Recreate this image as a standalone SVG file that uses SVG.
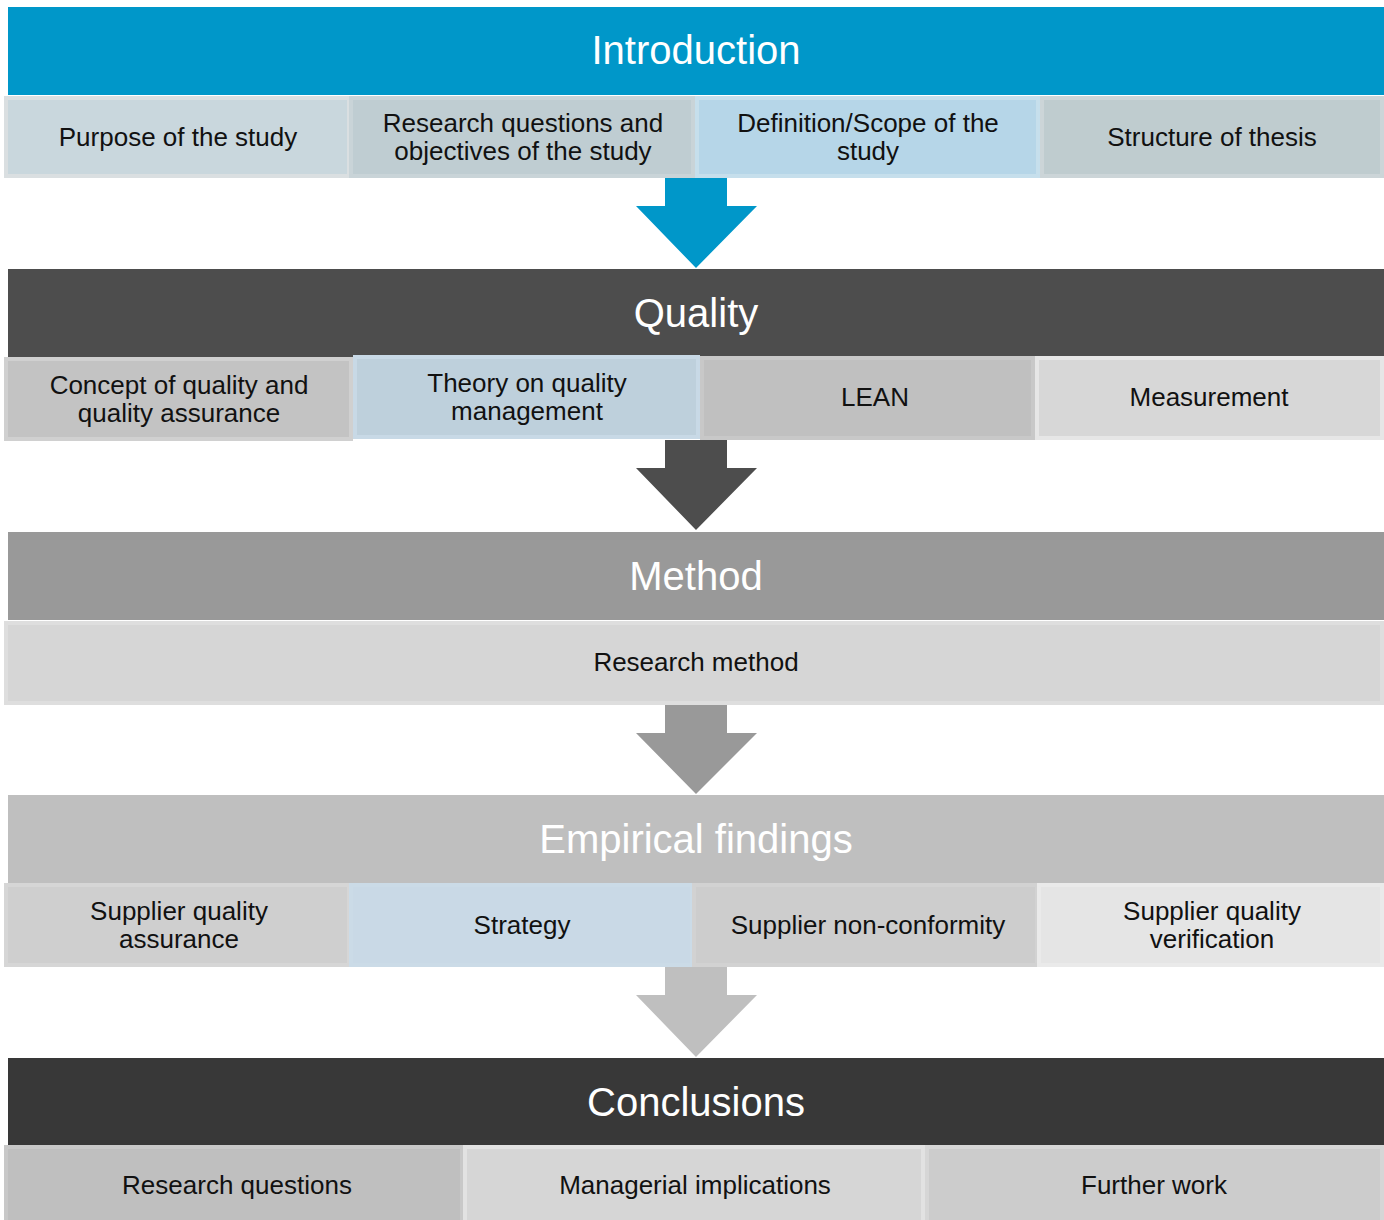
<svg xmlns="http://www.w3.org/2000/svg" width="1384" height="1220" viewBox="0 0 1384 1220">
  <style>
    text { font-family: "Liberation Sans", Arial, sans-serif; text-anchor: middle; }
    .head { font-size: 40px; fill: #ffffff; }
    .lbl { font-size: 26px; fill: #111111; }
    .cell { stroke-width: 4; }
  </style>
  <rect width="1384" height="1220" fill="#ffffff"/>

  <!-- flow arrows between the sections -->
  <g id="connectors">
    <polygon points="665,178 727,178 727,206 757,206 696,268 636,206 665,206" fill="#0097c9"/>
    <polygon points="665,440 727,440 727,468 757,468 696,530 636,468 665,468" fill="#4d4d4d"/>
    <polygon points="665,705 727,705 727,733 757,733 696,794 636,733 665,733" fill="#999999"/>
    <polygon points="665,967 727,967 727,995 757,995 696,1057 636,995 665,995" fill="#bfbfbf"/>
  </g>

  <!-- Introduction -->
  <g id="introduction">
    <rect x="8" y="7" width="1376" height="88" fill="#0097c9"/>
    <text class="head" x="696" y="64">Introduction</text>
  </g>
  <g id="purpose">
    <rect class="cell" x="6" y="98" width="343" height="78" fill="#c9d7dd" stroke="#dadfe1"/>
    <text class="lbl" x="178" y="146">Purpose of the study</text>
  </g>
  <g id="research-questions-objectives">
    <rect class="cell" x="351" y="98" width="342" height="78" fill="#bfcdd2" stroke="#c9d4d8"/>
    <text class="lbl" x="523" y="132">Research questions and</text>
    <text class="lbl" x="523" y="160">objectives of the study</text>
  </g>
  <g id="definition-scope">
    <rect class="cell" x="697" y="98" width="341" height="78" fill="#b6d6e8" stroke="#c6dfec"/>
    <text class="lbl" x="868" y="132">Definition/Scope of the</text>
    <text class="lbl" x="868" y="160">study</text>
  </g>
  <g id="structure">
    <rect class="cell" x="1042" y="98" width="340" height="78" fill="#bfcccf" stroke="#ccd5d8"/>
    <text class="lbl" x="1212" y="146">Structure of thesis</text>
  </g>

  <!-- Quality -->
  <g id="quality">
    <rect x="8" y="269" width="1376" height="88" fill="#4d4d4d"/>
    <text class="head" x="696" y="327">Quality</text>
  </g>
  <g id="concept">
    <rect class="cell" x="6" y="359" width="345" height="80" fill="#c3c3c3" stroke="#d0d0d0"/>
    <text class="lbl" x="179" y="394">Concept of quality and</text>
    <text class="lbl" x="179" y="422">quality assurance</text>
  </g>
  <g id="theory">
    <rect class="cell" x="355" y="357" width="343" height="80" fill="#bed0dc" stroke="#c8d9e6"/>
    <text class="lbl" x="527" y="392">Theory on quality</text>
    <text class="lbl" x="527" y="420">management</text>
  </g>
  <g id="lean">
    <rect class="cell" x="702" y="358" width="331" height="80" fill="#c0c0c0" stroke="#c8c8c8"/>
    <text class="lbl" x="875" y="406">LEAN</text>
  </g>
  <g id="measurement">
    <rect class="cell" x="1037" y="358" width="345" height="80" fill="#d7d7d7" stroke="#e6e6e6"/>
    <text class="lbl" x="1209" y="406">Measurement</text>
  </g>

  <!-- Method -->
  <g id="method">
    <rect x="8" y="532" width="1376" height="88" fill="#999999"/>
    <text class="head" x="696" y="590">Method</text>
  </g>
  <g id="research-method">
    <rect class="cell" x="6" y="623" width="1376" height="80" fill="#d6d6d6" stroke="#dedede"/>
    <text class="lbl" x="696" y="671">Research method</text>
  </g>

  <!-- Empirical findings -->
  <g id="empirical-findings">
    <rect x="8" y="795" width="1376" height="88" fill="#bfbfbf"/>
    <text class="head" x="696" y="853">Empirical findings</text>
  </g>
  <g id="supplier-quality-assurance">
    <rect class="cell" x="6" y="885" width="343" height="80" fill="#cfcfcf" stroke="#d6d6d6"/>
    <text class="lbl" x="179" y="920">Supplier quality</text>
    <text class="lbl" x="179" y="948">assurance</text>
  </g>
  <g id="strategy">
    <rect class="cell" x="351" y="885" width="341" height="80" fill="#c9d9e6" stroke="#cbdbe7"/>
    <text class="lbl" x="522" y="934">Strategy</text>
  </g>
  <g id="non-conformity">
    <rect class="cell" x="694" y="885" width="343" height="80" fill="#cdcdcd" stroke="#d2d2d2"/>
    <text class="lbl" x="868" y="934">Supplier non-conformity</text>
  </g>
  <g id="quality-verification">
    <rect class="cell" x="1039" y="885" width="343" height="80" fill="#e5e5e5" stroke="#eaeaea"/>
    <text class="lbl" x="1212" y="920">Supplier quality</text>
    <text class="lbl" x="1212" y="948">verification</text>
  </g>

  <!-- Conclusions -->
  <g id="conclusions">
    <rect x="8" y="1058" width="1376" height="87" fill="#383838"/>
    <text class="head" x="696" y="1116">Conclusions</text>
  </g>
  <g id="research-questions">
    <rect class="cell" x="6" y="1147" width="456" height="76" fill="#bfbfbf" stroke="#c8c8c8"/>
    <text class="lbl" x="237" y="1194">Research questions</text>
  </g>
  <g id="managerial-implications">
    <rect class="cell" x="465" y="1147" width="458" height="76" fill="#d6d6d6" stroke="#e2e2e2"/>
    <text class="lbl" x="695" y="1194">Managerial implications</text>
  </g>
  <g id="further-work">
    <rect class="cell" x="927" y="1147" width="455" height="76" fill="#cccccc" stroke="#d6d6d6"/>
    <text class="lbl" x="1154" y="1194">Further work</text>
  </g>
</svg>
